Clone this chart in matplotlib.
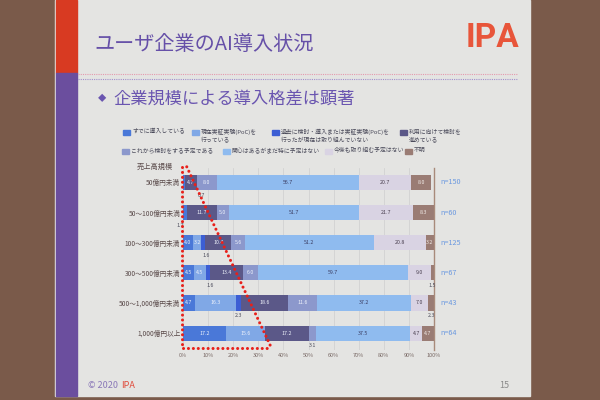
import numpy as np
import matplotlib.pyplot as plt
from matplotlib.patches import Rectangle

plt.rcParams['font.family'] = ['Noto Sans CJK JP', 'DejaVu Sans']

# ---- data (percent) ----
categories = ['50億円未満', '50～100億円未満', '100～300億円未満',
              '300～500億円未満', '500～1,000億円未満', '1,000億円以上']
sample_sizes = ['n=150', 'n=60', 'n=125', 'n=67', 'n=43', 'n=64']
series_names = ['すでに導入している',
                '現在実証実験(PoC)を\n行っている',
                '過去に検討・導入または実証実験(PoC)を\n行ったが現在は取り組んでいない',
                '利用に向けて検討を\n進めている',
                'これから検討をする予定である',
                '関心はあるがまだ特に予定はない',
                '今後も取り組む予定はない',
                '不明']
already = [0.7, 1.7, 4.0, 4.5, 4.7, 17.2]
poc_now = [0.0, 0.0, 3.2, 4.5, 16.3, 15.6]
past = [0.0, 0.0, 1.6, 1.6, 2.3, 0.0]
planning = [4.7, 11.7, 10.4, 13.4, 18.6, 17.2]
future = [8.0, 5.0, 5.6, 6.0, 11.6, 3.1]
interested = [56.7, 51.7, 51.2, 59.7, 37.2, 37.5]
no_plan = [20.7, 21.7, 20.8, 9.0, 7.0, 4.7]
unknown = [8.0, 8.3, 3.2, 1.5, 2.3, 4.7]
xticks = list(range(0, 101, 10))

series = [already, poc_now, past, planning, future, interested, no_plan, unknown]
colors = ['#4a78d8', '#80a8e6', '#3c5ed4', '#5b5888', '#8c98cc', '#8fbbef', '#d9d3e3', '#9a7c74']
txt_colors = ['#eef2fb', '#eef2fb', '#eef2fb', '#eef2fb', '#eef2fb', '#3a3d62', '#4a4050', '#f2ece8']
# horizontal nudge (in %) for small labels placed under the first segments of each row
below_nudge = [7.0, -1.8, 1.4, 1.0, 0.0, 0.0]

W, H = 600, 400
def fx(x):
    return x / W
def fy(y):
    return 1 - y / H

fig = plt.figure(figsize=(6, 4), dpi=100, facecolor='#7a5a4a')

# slide and decorations
fig.patches.append(Rectangle((fx(55), fy(396)), fx(530) - fx(55), fy(0) - fy(396),
                             transform=fig.transFigure, color='#e4e4e2', zorder=-10))
fig.patches.append(Rectangle((fx(56), fy(73)), fx(77) - fx(56), fy(0) - fy(73),
                             transform=fig.transFigure, color='#d83a22', zorder=-5))
fig.patches.append(Rectangle((fx(56), fy(396)), fx(77) - fx(56), fy(73) - fy(396),
                             transform=fig.transFigure, color='#6b4e9e', zorder=-5))
fig.add_artist(plt.Line2D([fx(78), fx(518)], [fy(74), fy(74)], color='#e49aae',
                          lw=0.8, ls=(0, (1, 1)), transform=fig.transFigure))
fig.add_artist(plt.Line2D([fx(78), fx(518)], [fy(79), fy(79)], color='#a090cc',
                          lw=0.8, ls=(0, (1, 1)), transform=fig.transFigure))

fig.text(fx(94), fy(45), 'ユーザ企業のAI導入状況', fontsize=14.5, color='#6650a8', va='center')
fig.text(fx(519), fy(38), 'IPA', fontsize=24, color='#e8553a', ha='right', va='center',
         family='Roboto', weight='bold')
fig.text(fx(98), fy(99), '◆', fontsize=6, color='#6a55b0', va='center')
fig.text(fx(113), fy(99), '企業規模による導入格差は顕著', fontsize=12.4, color='#6a55b0', va='center')
fig.text(fx(88), fy(385), '© 2020', fontsize=6.5, color='#8a78b8', va='center')
fig.text(fx(121), fy(385), 'IPA', fontsize=6.5, color='#e04a3a', va='center')
fig.text(fx(509), fy(385), '15', fontsize=6.5, color='#8a8a8a', va='center', ha='right')

# legend (manual, two rows)
leg_pos = [(123, 132), (192, 132), (272, 132), (400, 132),
           (122, 151), (223, 151), (325, 151), (405, 151)]
for name, col, (lx, ly) in zip(series_names, colors, leg_pos):
    fig.patches.append(Rectangle((fx(lx), fy(ly + 2.5)), 7 / W, 5 / H,
                                 transform=fig.transFigure, color=col, zorder=2))
    fig.text(fx(lx + 9), fy(ly - 3.5), name, fontsize=4.2, color='#4a4a5a',
             va='top', linespacing=1.5)

fig.text(fx(155), fy(167), '売上高規模', fontsize=5.2, color='#5a4a4a', ha='center', va='center')

# chart
ax = fig.add_axes([fx(183), fy(350), fx(434) - fx(183), fy(168) - fy(350)])
ax.set_facecolor('none')
y = np.arange(len(categories))
left = np.zeros(len(categories))
for k, (vals, col, tc) in enumerate(zip(series, colors, txt_colors)):
    vals = np.array(vals)
    ax.barh(y, vals, left=left, height=0.5, color=col, zorder=2)
    for i, v in enumerate(vals):
        if v == 0:
            continue
        cx = left[i] + v / 2
        if v >= 3.15:
            ax.text(cx, y[i], f'{v:.1f}', fontsize=3.8, color=tc, ha='center', va='center', zorder=3)
        else:
            if k < 3:
                cx += below_nudge[i]
            ax.text(cx, y[i] + 0.42, f'{v:.1f}', fontsize=3.8, color='#4a4a5a',
                    ha='center', va='center', zorder=3)
    left += vals

for i, n in enumerate(sample_sizes):
    ax.text(102.5, y[i], n, fontsize=5.2, color='#6a98e0', va='center', clip_on=False)

ax.set_xlim(0, 100)
ax.set_ylim(5.56, -0.48)
ax.set_xticks(xticks)
ax.set_xticklabels([f'{t}%' for t in xticks])
ax.set_yticks(y)
ax.set_yticklabels(categories)
ax.tick_params(axis='x', length=0, labelsize=4, labelcolor='#7a6a66', pad=2)
ax.tick_params(axis='y', length=0, labelsize=4.8, labelcolor='#5a4a4a', pad=2)
ax.grid(axis='x', color='#d2d2d2', lw=0.6, zorder=0)
for s in ['top', 'left', 'bottom']:
    ax.spines[s].set_visible(False)
ax.spines['right'].set_color('#a88a7a')
ax.spines['right'].set_linewidth(1)

# red dotted highlight
dot = dict(color='#e8201a', lw=2.2, ls=(0, (0.01, 1.6)), dash_capstyle='round',
           clip_on=False, zorder=5)
ax.plot([-0.5, -0.5, 35], [-0.52, 5.5, 5.5], **dot)
ax.plot([1.5, 35], [-0.52, 5.45], **dot)

fig.savefig('out.png', dpi=100, facecolor=fig.get_facecolor())
